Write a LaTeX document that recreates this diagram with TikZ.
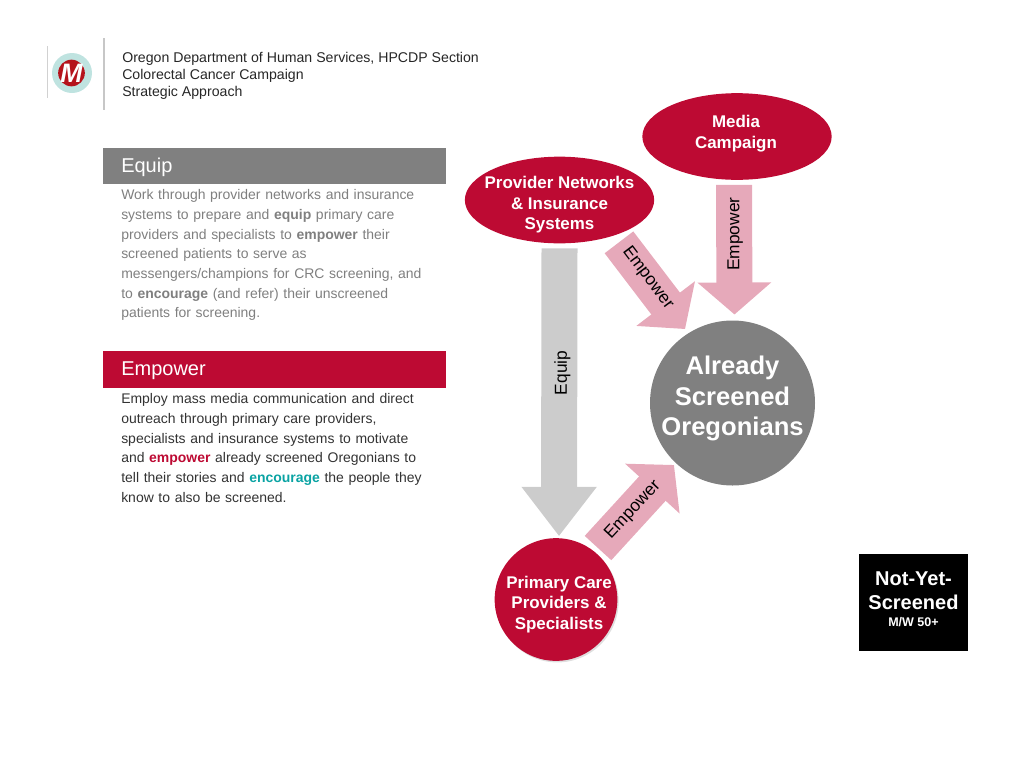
\documentclass[tikz,border=0pt]{standalone}
\usepackage{fontspec}
\setmainfont{Liberation Sans}
\usepackage{xcolor}
\usetikzlibrary{arrows.meta,positioning,shapes.geometric,shadows}
\definecolor{crimson}{HTML}{BD0A33}
\definecolor{pinkarrow}{HTML}{E6A9BA}
\definecolor{grayarrow}{HTML}{CCCCCC}
\definecolor{graybar}{HTML}{808080}
\definecolor{graytext}{HTML}{7F7F7F}
\definecolor{darktext}{HTML}{333333}
\definecolor{tealtext}{HTML}{0AA3A3}
\definecolor{logoteal}{HTML}{BFE3E0}
\definecolor{logored}{HTML}{B5121B}

\begin{document}
\begin{tikzpicture}[
  x=0.75pt, y=-0.75pt,
  bar/.style={anchor=west, minimum height=27.5pt, text width=230pt, inner xsep=13.5pt,
              inner ysep=0pt, align=left, text=white, text height=11pt, text depth=2pt,
              font=\fontsize{15}{18}\selectfont},
  bodytext/.style={text width=230pt, inner xsep=13.5pt, inner ysep=0pt, align=left,
              font=\fontsize{10.47}{14.75}\selectfont},
  inside/.style={text=white, align=center, inner sep=0pt,
              font=\fontsize{12.7}{15.4}\selectfont\bfseries},
  oval/.style={ellipse, fill=crimson, inner sep=0pt, outer sep=0pt,
              minimum width=142pt, minimum height=65pt},
  disc/.style={circle, inner sep=0pt, outer sep=0pt},
  fat/.style={line width=27pt, -{Triangle[length=24pt, width=54pt]}},
  empowerarr/.style={fat, draw=pinkarrow},
  equiparr/.style={line width=27pt, draw=grayarrow, -{Triangle[length=37pt, width=54pt]}},
  arrlabel/.style={text=black, inner sep=0pt, font=\fontsize{13}{15}\selectfont}
]
\useasboundingbox (0,0) rectangle (1024,768);

% logo and header
\draw[line width=0.7pt, draw=black!18] (47,46) -- (47,98);
\draw[line width=2pt, draw=black!22] (104,38) -- (104,110);
\node[circle, fill=logoteal, minimum size=30pt, inner sep=0pt] (logo) at (72,73) {};
\node[circle, fill=logored, minimum size=20pt, inner sep=0pt] (logomark) at (71.5,73) {};
\node[text=white, inner sep=0pt, font=\fontsize{20}{20}\selectfont\bfseries\itshape] at (logomark) {M};
\node[anchor=west, align=left, inner sep=0pt, text=black!85,
      font=\fontsize{10.6}{12.75}\selectfont] (title) at (122,76)
  {Oregon Department of Human Services, HPCDP Section\\
   Colorectal Cancer Campaign\\
   Strategic Approach};

% left column
\node[bar, fill=graybar] (equipbar) at (103,166) {Equip};
\node[bodytext, text=graytext, below=3.75pt of equipbar] (equipbody)
  {Work through provider networks and insurance\\
   systems to prepare and \textbf{equip} primary care\\
   providers and specialists to \textbf{empower} their\\
   screened patients to serve as\\
   messengers/champions for CRC screening, and\\
   to \textbf{encourage} (and refer) their unscreened\\
   patients for screening.};
\node[bar, fill=crimson] (empowerbar) at (103,369.5) {Empower};
\node[bodytext, text=darktext, below=4pt of empowerbar] (empowerbody)
  {Employ mass media communication and direct\\
   outreach through primary care providers,\\
   specialists and insurance systems to motivate\\
   and \textcolor{crimson}{\textbf{empower}} already screened Oregonians to\\
   tell their stories and \textcolor{tealtext}{\textbf{encourage}} the people they\\
   know to also be screened.};

% diagram
\node[oval, label={[inside, xshift=-0.75pt, yshift=2.25pt]center:Media\\Campaign}] (media) at (737,136.5) {};
\node[oval, label={[inside, yshift=-3.75pt]center:Provider Networks\\\& Insurance\\Systems}] (provider) at (559.5,200) {};
\node[disc, fill=black!50, minimum size=123.75pt,
      label={[inside, yshift=3.4pt, font=\fontsize{19.2}{23.2}\selectfont\bfseries]center:Already\\Screened\\Oregonians}]
  (screened) at (732.5,403) {};
\node[disc, fill=crimson, minimum size=92pt,
      drop shadow={opacity=0.25, shadow xshift=1pt, shadow yshift=-1.2pt},
      label={[inside, xshift=2.25pt, yshift=-3.75pt]center:Primary Care\\Providers \&\\Specialists}]
  (primary) at (556,599.5) {};
\node[fill=black, minimum width=81.5pt, minimum height=72.5pt, inner sep=0pt,
      label={[inside, yshift=2.25pt, font=\fontsize{15}{18}\selectfont\bfseries]center:Not-Yet-\\Screened\\[-5pt]{\fontsize{9.4}{11}\selectfont M/W 50+}}]
  (notyet) at (913.5,602.5) {};

\draw[equiparr] ([xshift=0pt,yshift=-3.75pt]provider.south)
  -- node[arrlabel, rotate=90, pos=0.433, yshift=-2.25pt] {Equip} ([xshift=2.25pt,yshift=1.5pt]primary.north);
\draw[empowerarr] ([xshift=-2.25pt,yshift=-3.75pt]media.south)
  -- node[arrlabel, rotate=90, pos=0.38, yshift=-0.75pt] {Empower} ([xshift=1.5pt,yshift=4.5pt]screened.north);
\draw[empowerarr] ([xshift=44.6pt,yshift=0.75pt]provider.south)
  -- node[arrlabel, rotate=-53, pos=0.42, yshift=1pt] {Empower} ([xshift=-35.6pt,yshift=55.5pt]screened.center);
\draw[empowerarr] ([xshift=31.5pt,yshift=38.6pt]primary.center)
  -- node[arrlabel, rotate=47, pos=0.46] {Empower} ([xshift=-43.9pt,yshift=-46.5pt]screened.center);
\end{tikzpicture}
\end{document}
